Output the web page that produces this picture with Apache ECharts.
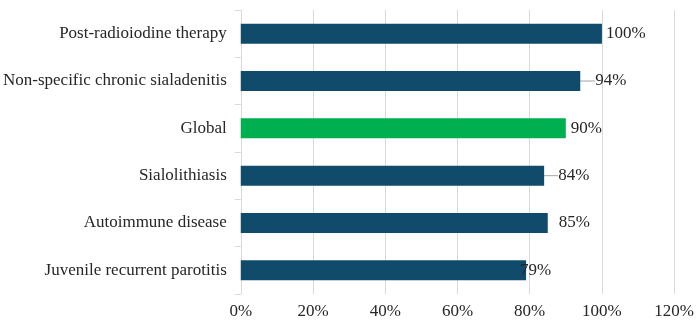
<!DOCTYPE html>
<html>
<head>
<meta charset="utf-8">
<script src="https://cdn.jsdelivr.net/npm/echarts@6/dist/echarts.min.js"></script>
<style>
  html, body { margin: 0; padding: 0; background: #fff; }
  #chart { width: 697px; height: 322px; }
</style>
</head>
<body>
<div id="chart"></div>
<script>
// categories, top to bottom
const categories = [
  "Post-radioiodine therapy",
  "Non-specific chronic sialadenitis",
  "Global",
  "Sialolithiasis",
  "Autoimmune disease",
  "Juvenile recurrent parotitis"
];
const values = [100, 94, 90, 84, 85, 79];
const xTicks = [0, 20, 40, 60, 80, 100, 120];

// label shift and leader lines, as in the picture
const labelShift = [4, 15, 5, 14, 11, -6];
const hasLeader = [false, true, false, true, false, false];

const blue = "#114b6b";
const green = "#00b050";
const font = "'Liberation Serif', 'DejaVu Serif', serif";

let myChart = echarts.init(document.getElementById("chart"));

myChart.setOption({
  animation: false,
  grid: { left: 240, right: 21, top: 10, bottom: 28 },
  xAxis: {
    type: "value",
    min: xTicks[0],
    max: xTicks[xTicks.length - 1],
    interval: 20,
    axisLine: { show: false },
    axisTick: { show: false },
    splitLine: { lineStyle: { color: "#d9d9d9", width: 1 } },
    axisLabel: {
      margin: 9,
      color: "#262626",
      fontFamily: font,
      fontSize: 17,
      formatter: "{value}%"
    }
  },
  yAxis: {
    type: "category",
    inverse: true,
    data: categories,
    axisLine: { lineStyle: { color: "#d9d9d9" } },
    axisTick: { show: true, length: 6, lineStyle: { color: "#d9d9d9" } },
    axisLabel: {
      margin: 14,
      color: "#262626",
      fontFamily: font,
      fontSize: 17
    }
  },
  series: [
    {
      type: "bar",
      barWidth: 20,
      data: values.map((v, i) => ({
        value: v,
        itemStyle: { color: categories[i] === "Global" ? green : blue },
        labelLine: { show: hasLeader[i], lineStyle: { color: "#a6a6a6", width: 1 } }
      })),
      label: {
        show: true,
        position: "right",
        distance: 0,
        color: "#262626",
        fontFamily: font,
        fontSize: 17,
        formatter: "{c}%"
      },
      labelLayout: function (params) {
        return { dx: labelShift[params.dataIndex] };
      }
    }
  ]
});
</script>
</body>
</html>
